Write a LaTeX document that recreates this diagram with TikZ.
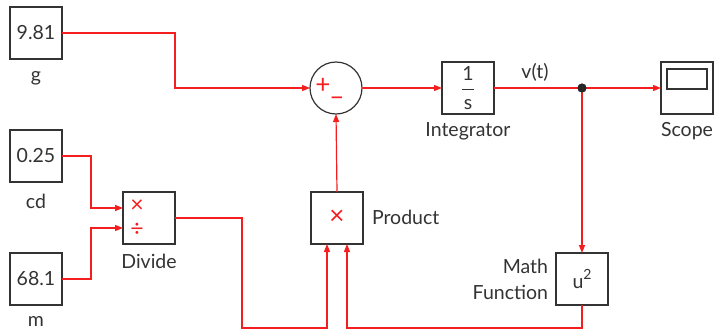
\documentclass[tikz,border=0pt]{standalone}
\usepackage{amsmath}
\usepackage{fontspec}
\setmainfont{Lato}
\usetikzlibrary{arrows.meta,positioning,calc}
\definecolor{cSig}{HTML}{F51E1E}
\definecolor{cBlk}{HTML}{333333}
\tikzset{
  blk/.style   ={draw=cBlk,line width=1.3pt,fill=white,minimum width=52pt,
                 minimum height=52pt,inner sep=0pt,font=\fontsize{19.5}{22}\selectfont,
                 text=cBlk},
  sumblk/.style={draw=cBlk,line width=1.2pt,circle,fill=white,minimum size=52pt,
                 inner sep=0pt},
  lbl/.style   ={font=\fontsize{19.5}{26}\selectfont,text=cBlk,inner sep=0pt},
  op/.style    ={font=\fontsize{26}{28}\selectfont,text=cSig,inner sep=0pt},
  opsm/.style  ={op,font=\fontsize{23}{24}\selectfont,text height=8pt,text depth=0pt},
  sig/.style   ={-{Triangle[length=8pt,width=6pt]},draw=cSig,line width=1.2pt},
  wire/.style  ={draw=cSig,line width=1.2pt},
}

\begin{document}
\begin{tikzpicture}[x=1pt,y=-1pt,every node/.style={outer sep=0pt}]
\useasboundingbox (0,0) rectangle (717,330);

% sources
\node[blk] (g)  at (36,33)  {9.81};
\node[blk] (cd) at (36,156) {0.25};
\node[blk] (m)  at (36,279) {68.1};
\node[lbl] (gl)  at (36,78)  {g};
\node[lbl] (cdl) at (36,201) {cd};
\node[lbl] (ml)  at (36,321) {m};

% operators
\node[blk] (div) at (149,218) {};
\node[opsm] (divx) at (137,208) {×};
\node[opsm] (divd) at (137,232) {÷};
\node[lbl] (divl) at (149,261) {Divide};

\node[blk] (prod) at (337,218) {};
\node[op]  (prodx) at (337,217) {×};
\node[lbl,anchor=west] (prodl) at (372,217) {Product};

\node[sumblk] (sum) at (336,88) {};
\node[op] (sump) at (323,86)  {+};
\node[op] (summ) at (337,101) {–};

\node[blk] (integ) at (468,88) {$\dfrac{\text{1}}{\text{s}}$};
\node[lbl] (integl) at (468,131) {Integrator};

\node[blk] (scope) at (687,88) {};
\draw[cBlk,line width=1.2pt] ($(scope.north west)+(6,7)$) rectangle ($(scope.north east)+(-6,27)$);
\node[lbl] (scopel) at (687,131) {Scope};

\node[blk] (mf) at (582,279) {u\raisebox{0.45em}{\fontsize{14}{14}\selectfont 2}};
\node[lbl,align=right,anchor=east] (mfl) at (548,279) {Math\\Function};

\node[lbl] (vt) at (535,72) {v(t)};

% signals
\draw[sig] (g.east) -- ++(113,0) |- (sum.west);
\draw[sig] (cd.east) -- ++(29,0) |- ($(div.west)+(0,-10)$);
\draw[sig] (m.east) -- ++(29,0) |- ($(div.west)+(0,10)$);
\draw[sig] (div.east) -- ++(67,0) -- ++(0,110) -| ($(prod.south)+(-10,0)$);
\draw[sig] (mf.south) -- ++(0,23) -| ($(prod.south)+(10,0)$);
\draw[sig] (prod.north) -- (sum.south);
\draw[sig] (sum.east) -- (integ.west);
\node[circle,fill=black!85,minimum size=9pt,inner sep=0pt] (dot) at (582,88) {};
\draw[wire] (integ.east) -- (dot.center);
\draw[sig] (dot.center) -- (scope.west);
\draw[sig] (dot.center) -- (mf.north);
\fill[black!85] (dot) circle (4.5pt);
\end{tikzpicture}
\end{document}
